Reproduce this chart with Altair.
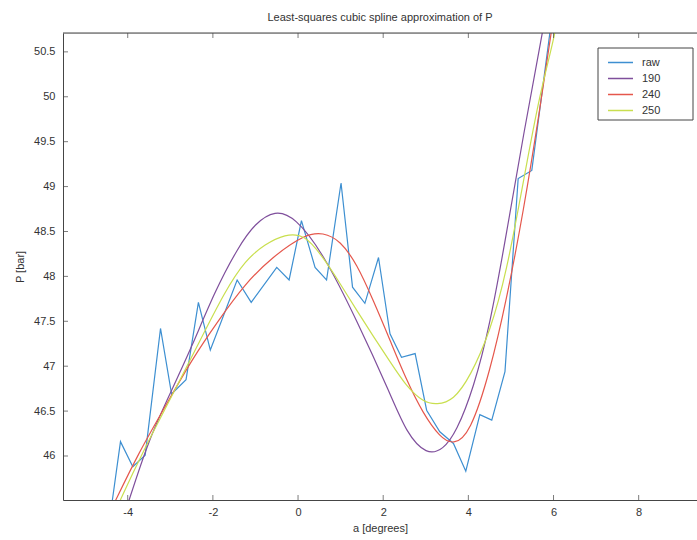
import altair as alt
import pandas as pd

# ---------------- data ----------------
raw_x = [-4.48, -4.17, -3.88, -3.59, -3.23, -2.97, -2.63, -2.34, -2.06, -1.43,
         -1.10, -0.50, -0.21, 0.08, 0.40, 0.67, 1.01, 1.28, 1.57, 1.89,
         2.16, 2.43, 2.75, 3.02, 3.33, 3.65, 3.94, 4.27, 4.55, 4.86,
         5.17, 5.49, 6.05]
raw_y = [45.10, 46.16, 45.88, 46.01, 47.42, 46.69, 46.85, 47.71, 47.18, 47.96,
         47.71, 48.10, 47.96, 48.62, 48.10, 47.96, 49.04, 47.88, 47.70, 48.21,
         47.36, 47.10, 47.14, 46.51, 46.27, 46.14, 45.83, 46.46, 46.40, 46.94,
         49.09, 49.18, 51.20]

s190_x = [-4.25, -3.98, -3.51, -2.97, -2.50, -1.95, -1.40, -1.01, -0.54, -0.07,
          0.59, 1.38, 2.16, 2.55, 3.02, 3.41, 3.72, 4.12, 4.51, 4.90,
          5.29, 5.72, 6.00]
s190_y = [45.10, 45.49, 46.18, 46.73, 47.21, 47.84, 48.33, 48.59, 48.74, 48.66,
          48.26, 47.51, 46.70, 46.25, 46.01, 46.07, 46.27, 46.75, 47.46, 48.49,
          49.57, 50.66, 51.40]

s240_x = [-4.60, -4.30, -3.75, -3.12, -2.50, -1.87, -1.24, -0.62, 0.16, 0.59,
          0.99, 1.38, 1.77, 2.16, 2.55, 2.94, 3.33, 3.65, 4.04, 4.51,
          4.90, 5.29, 5.68, 5.92, 6.20]
s240_y = [45.20, 45.49, 46.03, 46.55, 47.07, 47.51, 47.92, 48.21, 48.47, 48.49,
          48.40, 48.14, 47.73, 47.29, 46.84, 46.47, 46.21, 46.12, 46.25, 46.94,
          47.75, 48.71, 49.86, 50.64, 51.50]

s250_x = [-4.50, -4.18, -3.59, -2.97, -2.34, -1.71, -1.24, -0.77, -0.31, 0.16,
          0.59, 0.99, 1.38, 1.77, 2.16, 2.55, 2.94, 3.26, 3.65, 4.04,
          4.51, 4.90, 5.29, 5.68, 6.03, 6.30]
s250_y = [45.15, 45.51, 46.10, 46.66, 47.25, 47.84, 48.18, 48.36, 48.47, 48.47,
          48.21, 47.92, 47.62, 47.33, 47.05, 46.77, 46.60, 46.57, 46.62, 46.88,
          47.38, 48.05, 49.05, 50.05, 50.66, 51.40]

series_names = ["raw", "190", "240", "250"]
series_colors = ["#3d8fd1", "#7f4f9c", "#e5574c", "#c9df4f"]

x_ticks = [-4, -2, 0, 2, 4, 6, 8]
y_ticks = [46, 46.5, 47, 47.5, 48, 48.5, 49, 49.5, 50, 50.5]

title_text = "Least-squares cubic spline approximation of P"
x_title = "a [degrees]"
y_title = "P [bar]"

# ---------------- layout / style ----------------
W, H = 634, 467
X_DOMAIN = [-5.52, 9.37]
Y_DOMAIN = [45.51, 50.71]
FONT = "Liberation Sans"
AX = "#454545"
TXT = "#333333"

rows = []
for name, xs, ys in [("raw", raw_x, raw_y), ("190", s190_x, s190_y),
                     ("240", s240_x, s240_y), ("250", s250_x, s250_y)]:
    rows += [{"a": x, "P": y, "series": name} for x, y in zip(xs, ys)]
df = pd.DataFrame(rows)

xscale = alt.Scale(domain=X_DOMAIN, nice=False, zero=False)
yscale = alt.Scale(domain=Y_DOMAIN, nice=False, zero=False)

xaxis = alt.Axis(values=x_ticks, title=x_title, grid=False, tickSize=0,
                 labelPadding=6, titlePadding=5, domainColor=AX,
                 labelExpr="replace(datum.label, '\u2212', '-')",
                 labelFont=FONT, titleFont=FONT, labelFontSize=11,
                 titleFontSize=11, titleFontWeight="normal",
                 labelColor=TXT, titleColor=TXT)
yaxis = alt.Axis(values=y_ticks, title=y_title, grid=False, tickSize=0,
                 labelPadding=8, titlePadding=8, format=".1~f",
                 domainColor=AX, labelFont=FONT, titleFont=FONT,
                 labelFontSize=11, titleFontSize=11, titleFontWeight="normal",
                 labelColor=TXT, titleColor=TXT)

legend = alt.Legend(title=None, orient="none", legendX=544, legendY=22,
                    symbolType="stroke", symbolSize=625, symbolStrokeWidth=1.3,
                    clipHeight=15, rowPadding=1, labelFont=FONT,
                    labelFontSize=11, labelColor=TXT, labelOffset=8,
                    padding=0)

color = alt.Color("series:N",
                  scale=alt.Scale(domain=series_names, range=series_colors),
                  sort=series_names, legend=legend)

base = alt.Chart(df).encode(
    x=alt.X("a:Q", scale=xscale, axis=xaxis),
    y=alt.Y("P:Q", scale=yscale, axis=yaxis),
    color=color,
)

raw_layer = base.transform_filter(alt.datum.series == "raw").mark_line(
    clip=True, strokeWidth=1.2)
fit_layer = base.transform_filter(alt.datum.series != "raw").mark_line(
    clip=True, strokeWidth=1.2, interpolate="basis")

# legend box (drawn behind the legend entries)
one = pd.DataFrame({"k": [0]})
legend_box = alt.Chart(one).mark_rect(fill="white", stroke=AX, strokeWidth=1).encode(
    x=alt.value(535), x2=alt.value(630), y=alt.value(15), y2=alt.value(87))

# inward tick marks and top border (MATLAB-style box)
xt = pd.DataFrame({"a": x_ticks})
yt = pd.DataFrame({"P": y_ticks})
bottom_ticks = alt.Chart(xt).mark_tick(orient="vertical", size=5, thickness=1, color=AX).encode(
    x=alt.X("a:Q", scale=xscale, axis=xaxis), y=alt.value(H - 2.5))
top_ticks = alt.Chart(xt).mark_tick(orient="vertical", size=5, thickness=1, color=AX).encode(
    x=alt.X("a:Q", scale=xscale, axis=xaxis), y=alt.value(2.5))
left_ticks = alt.Chart(yt).mark_tick(orient="horizontal", size=5, thickness=1, color=AX).encode(
    y=alt.Y("P:Q", scale=yscale, axis=yaxis), x=alt.value(2.5))
top_border = alt.Chart(one).mark_rule(color=AX, strokeWidth=1).encode(
    x=alt.value(0), x2=alt.value(W), y=alt.value(0))

chart = alt.layer(
    legend_box, raw_layer, fit_layer, bottom_ticks, top_ticks, left_ticks, top_border
).properties(
    width=W, height=H,
    title=alt.TitleParams(title_text, font=FONT, fontSize=11, fontWeight="normal",
                          color=TXT, anchor="middle", offset=10),
    autosize=alt.AutoSizeParams(type="none"),
    padding={"left": 63, "top": 33, "right": 0, "bottom": 40},
).configure_view(strokeWidth=0).configure(background="white")

chart.save("out.html", embed_options={"renderer": "svg", "actions": False})
